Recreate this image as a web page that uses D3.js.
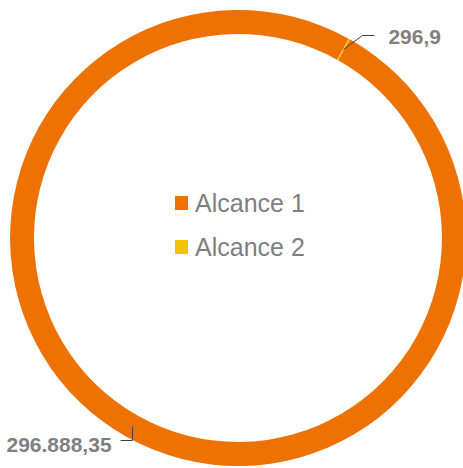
<!DOCTYPE html>
<html>
<head>
<meta charset="utf-8">
<script src="https://cdn.jsdelivr.net/npm/d3@7"></script>
<style>
  html, body { margin: 0; padding: 0; background: #fff; }
  svg { display: block; }
</style>
</head>
<body>
<div id="chart"></div>
<script>
// Data
const categories = ['Alcance 1', 'Alcance 2'];
const values = [296888.35, 296.9];
const valueLabels = ['296.888,35', '296,9'];
const colors = ['#EE7203', '#F2C300'];

const width = 463;
const height = 468;
const cx = 238, cy = 238;
const outerR = 228, innerR = 204;
const textColor = '#7F7F7F';

const svg = d3.select('#chart')
  .append('svg')
  .attr('width', width)
  .attr('height', height);

const g = svg.append('g')
  .attr('transform', `translate(${cx},${cy})`);

const data = categories.map((c, i) => ({ name: c, value: values[i], label: valueLabels[i], color: colors[i] }));

// first slice rotated ~29 degrees
const start = 29.4 * Math.PI / 180;
const pie = d3.pie()
  .sort(null)
  .value(d => d.value)
  .startAngle(start)
  .endAngle(start + 2 * Math.PI);

const arc = d3.arc().innerRadius(innerR).outerRadius(outerR);

const arcs = pie(data);

g.selectAll('.slice')
  .data(arcs)
  .enter()
  .append('path')
  .attr('class', 'slice')
  .attr('d', arc)
  .attr('fill', d => d.data.color);

// Data labels with leader lines
const midR = (innerR + outerR) / 2;
const polar = (r, a) => [r * Math.sin(a), -r * Math.cos(a)];

arcs.forEach(d => {
  const a = (d.startAngle + d.endAngle) / 2;
  const p0 = polar(midR, a);
  let pts, tx, ty, anchor;
  if (d.data.name === 'Alcance 2') {
    const p1 = [p0[0] + 19, p0[1] - 14];
    const p2 = [p1[0] + 12, p1[1]];
    pts = [p0, p1, p2];
    tx = p2[0] + 14; ty = p2[1] + 1; anchor = 'start';
  } else {
    const p1 = [p0[0], p0[1] + 14];
    const p2 = [p1[0] - 12, p1[1]];
    pts = [p0, p1, p2];
    tx = p2[0] - 9; ty = p2[1] + 4; anchor = 'end';
  }

  g.append('path')
    .attr('d', d3.line()(pts))
    .attr('fill', 'none')
    .attr('stroke', '#404040')
    .attr('stroke-width', 1);

  g.append('text')
    .attr('x', tx)
    .attr('y', ty)
    .attr('text-anchor', anchor)
    .attr('dominant-baseline', 'central')
    .attr('fill', textColor)
    .attr('font-family', '"Liberation Sans", Arial, sans-serif')
    .attr('font-size', '21px')
    .style('font-weight', 'bold')
    .text(d.data.label);
});

// Legend in the middle
const legend = svg.append('g')
  .attr('transform', 'translate(175, 203)');

const rows = legend.selectAll('.row')
  .data(data)
  .enter()
  .append('g')
  .attr('class', 'row')
  .attr('transform', (d, i) => `translate(0, ${i * 44})`);

rows.append('rect')
  .attr('x', 0)
  .attr('y', -7)
  .attr('width', 13)
  .attr('height', 14)
  .attr('fill', d => d.color);

rows.append('text')
  .attr('x', 20)
  .attr('y', 0)
  .attr('dominant-baseline', 'central')
  .attr('fill', textColor)
  .attr('font-family', '"Liberation Sans", Arial, sans-serif')
  .attr('font-size', '25px')
  .text(d => d.name);
</script>
</body>
</html>
